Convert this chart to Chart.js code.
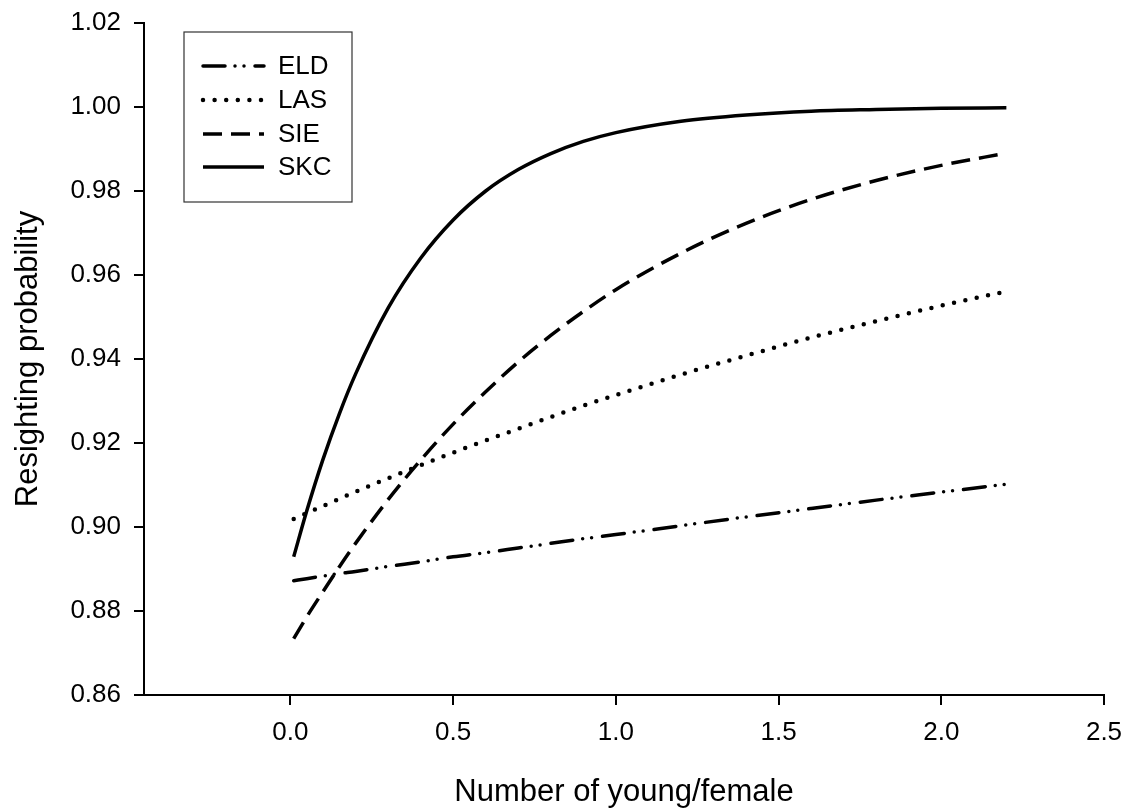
<!DOCTYPE html>
<html>
<head>
<meta charset="utf-8">
<title>Resighting probability</title>
<script src="https://cdn.jsdelivr.net/npm/chart.js@4/dist/chart.umd.min.js"></script>
<style>
  html, body { margin: 0; padding: 0; background: #fff; }
  #wrap { width: 1128px; height: 811px; }
</style>
</head>
<body>
<div id="wrap"><canvas id="chart" width="1128" height="811"></canvas></div>
<script>
// number of young per female (shared x positions)
const youngPerFemale = [0.01, 0.05, 0.1, 0.15, 0.2, 0.3, 0.4, 0.5, 0.6, 0.7, 0.8, 0.9, 1.0, 1.2, 1.4, 1.6, 1.8, 2.0, 2.2];

// resighting probability per colony
const eld = [0.8872, 0.8877, 0.8883, 0.8889, 0.8894, 0.8906, 0.8917, 0.8929, 0.8939, 0.8950, 0.8961, 0.8972, 0.8982, 0.9003, 0.9024, 0.9044, 0.9064, 0.9083, 0.9102];
const las = [0.9019, 0.9033, 0.9050, 0.9067, 0.9084, 0.9116, 0.9147, 0.9177, 0.9206, 0.9234, 0.9262, 0.9289, 0.9314, 0.9363, 0.9408, 0.9451, 0.9490, 0.9527, 0.9561];
const sie = [0.8734, 0.8786, 0.8846, 0.8905, 0.8961, 0.9065, 0.9159, 0.9245, 0.9322, 0.9393, 0.9456, 0.9513, 0.9565, 0.9652, 0.9723, 0.9780, 0.9825, 0.9861, 0.9890];
const skc = [0.8929, 0.9038, 0.9161, 0.9269, 0.9364, 0.9521, 0.9640, 0.9731, 0.9800, 0.9851, 0.9889, 0.9918, 0.9939, 0.9966, 0.9981, 0.9990, 0.9994, 0.9997, 0.9998];

const seriesNames = ["ELD", "LAS", "SIE", "SKC"];
const xTicks = [0.0, 0.5, 1.0, 1.5, 2.0, 2.5];
const yTicks = [0.86, 0.88, 0.90, 0.92, 0.94, 0.96, 0.98, 1.00, 1.02];

const FONT = "'Liberation Sans', Arial, sans-serif";

// line styles: dash-dot-dot, dotted, dashed, solid
const styles = [
  { dash: [22, 10, 0, 9, 0, 11], cap: "round", width: 3.5 },
  { dash: [0, 11.6], cap: "round", width: 4.5 },
  { dash: [19, 9], cap: "butt", width: 3.5 },
  { dash: [], cap: "butt", width: 3.5 }
];

const toPoints = ys => youngPerFemale.map((x, i) => ({ x: x, y: ys[i] }));

const datasets = [eld, las, sie, skc].map((ys, i) => ({
  label: seriesNames[i],
  data: toPoints(ys),
  borderColor: "#000",
  borderWidth: styles[i].width,
  borderDash: styles[i].dash,
  borderCapStyle: styles[i].cap,
  pointRadius: 0,
  fill: false,
  cubicInterpolationMode: "monotone"
}));

// boxed legend in the upper left corner
const boxLegend = {
  id: "boxLegend",
  afterDraw(chart) {
    const ctx = chart.ctx;
    ctx.save();
    ctx.strokeStyle = "#333";
    ctx.lineWidth = 1.2;
    ctx.strokeRect(184, 32, 168, 170);
    const rows = [66, 100, 134, 167];
    seriesNames.forEach((name, i) => {
      const st = styles[i];
      ctx.beginPath();
      ctx.strokeStyle = "#000";
      ctx.lineWidth = st.width;
      ctx.lineCap = st.cap;
      ctx.setLineDash(st.dash);
      ctx.moveTo(203, rows[i]);
      ctx.lineTo(264, rows[i]);
      ctx.stroke();
      ctx.setLineDash([]);
      ctx.fillStyle = "#000";
      ctx.font = "26px " + FONT;
      ctx.textBaseline = "middle";
      ctx.textAlign = "left";
      ctx.fillText(name, 278, rows[i] + 1);
    });
    ctx.restore();
  }
};

new Chart(document.getElementById("chart"), {
  type: "line",
  data: { datasets: datasets },
  options: {
    responsive: false,
    animation: false,
    layout: { padding: { left: 0, top: 23, right: 24, bottom: 0 } },
    plugins: { legend: { display: false }, tooltip: { enabled: false } },
    scales: {
      x: {
        type: "linear",
        min: -0.45,
        max: 2.5,
        afterBuildTicks: s => { s.ticks = xTicks.map(v => ({ value: v })); },
        afterFit: s => { s.height = 116; s.paddingLeft = 0; s.paddingRight = 0; },
        grid: { drawOnChartArea: false, drawTicks: true, tickLength: 10, color: "#000", lineWidth: 2 },
        border: { display: true, color: "#000", width: 2 },
        ticks: {
          color: "#000",
          padding: 12,
          font: { family: FONT, size: 26 },
          maxRotation: 0,
          callback: v => v.toFixed(1)
        },
        title: {
          display: true,
          text: "Number of young/female",
          color: "#000",
          font: { family: FONT, size: 31 },
          padding: { top: 2, bottom: 0 }
        }
      },
      y: {
        min: 0.86,
        max: 1.02,
        afterBuildTicks: s => { s.ticks = yTicks.map(v => ({ value: v })); },
        afterFit: s => { s.width = 144; s.paddingTop = 0; s.paddingBottom = 0; },
        grid: { drawOnChartArea: false, drawTicks: true, tickLength: 10, color: "#000", lineWidth: 2 },
        border: { display: true, color: "#000", width: 2 },
        ticks: {
          color: "#000",
          padding: 13,
          font: { family: FONT, size: 26 },
          callback: v => v.toFixed(2)
        },
        title: {
          display: true,
          text: "Resighting probability",
          color: "#000",
          font: { family: FONT, size: 31 },
          padding: { top: 10, bottom: 0 }
        }
      }
    }
  },
  plugins: [boxLegend]
});
</script>
</body>
</html>
